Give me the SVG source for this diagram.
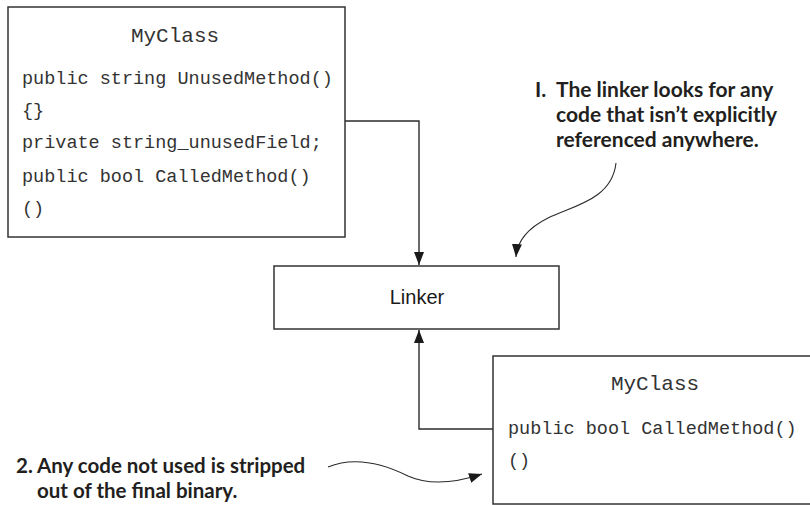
<svg xmlns="http://www.w3.org/2000/svg" width="810" height="505" viewBox="0 0 810 505">
<style>
.box{fill:#fff;stroke:#333;stroke-width:1.5}
.code{font-family:"Liberation Mono","Courier New",monospace;font-size:18.5px;fill:#333}
.title{font-family:"Liberation Mono","Courier New",monospace;font-size:21px;fill:#333;text-anchor:middle}
.lbl{font-family:"Liberation Sans",Arial,sans-serif;font-size:20px;fill:#1a1a1a;text-anchor:middle}
.note{font-family:Lato,"Open Sans",sans-serif;font-weight:700;font-size:21px;fill:#231f20}
.note2{font-size:20.5px}
.conn{fill:none;stroke:#2b2b2b;stroke-width:1.4}
.curve{fill:none;stroke:#2b2b2b;stroke-width:1.1}
</style>
<defs>
<marker id="ah" markerUnits="userSpaceOnUse" markerWidth="14" markerHeight="10" refX="13" refY="5" orient="auto">
<path d="M0,0 L13,5 L0,10 Z" fill="#1a1a1a"/>
</marker>
</defs>
<rect width="810" height="505" fill="#fff"/>
<g id="connectors">
<path class="conn" d="M345,121 H419 V265" marker-end="url(#ah)"/>
<path class="conn" d="M493,429 H419 V330" marker-end="url(#ah)"/>
<path class="curve" d="M616,163 C612,200 572,206 548,218 C526,229 517,243 516,257" marker-end="url(#ah)"/>
<path class="curve" d="M328,467 C350,458 378,461 408,476 C430,486 455,483 482,474" marker-end="url(#ah)"/>
</g>
<g id="myclass-full">
<rect class="box" x="8" y="7" width="337" height="230"/>
<text class="title" x="175" y="42">MyClass</text>
<text class="code" x="22" y="84">public string UnusedMethod()</text>
<text class="code" x="22" y="116">{}</text>
<text class="code" x="22" y="148">private string_unusedField;</text>
<text class="code" x="22" y="182">public bool CalledMethod()</text>
<text class="code" x="22" y="214">()</text>
</g>
<g id="linker">
<rect class="box" x="274" y="266" width="285" height="63"/>
<text class="lbl" x="417" y="304">Linker</text>
</g>
<g id="myclass-stripped">
<rect class="box" x="493" y="356" width="322" height="148"/>
<text class="title" x="655" y="390">MyClass</text>
<text class="code" x="508" y="434">public bool CalledMethod()</text>
<text class="code" x="508" y="466">()</text>
</g>
<g id="note1">
<text class="note"><tspan x="535" y="97">I.</tspan><tspan x="556" y="97">The linker looks for any</tspan><tspan x="556" y="122">code that isn’t explicitly</tspan><tspan x="556" y="147">referenced anywhere.</tspan></text>
</g>
<g id="note2">
<text class="note note2"><tspan x="16" y="473">2.</tspan><tspan x="37" y="473">Any code not used is stripped</tspan><tspan x="37" y="498">out of the final binary.</tspan></text>
</g>
</svg>
